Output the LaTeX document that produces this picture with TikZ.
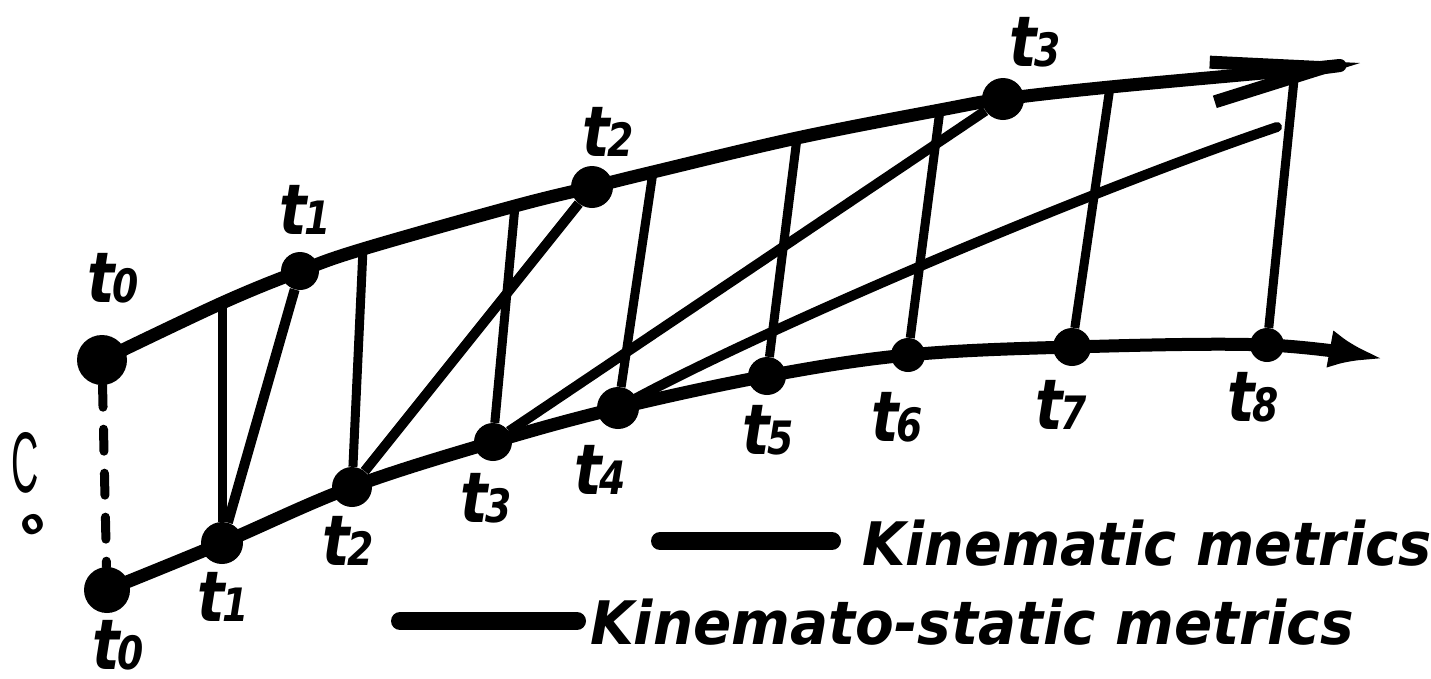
\documentclass[tikz,border=0pt]{standalone}
\usepackage{fontspec}
\usepackage{graphicx}
\setmainfont{DejaVu Sans}
\newfontfamily\cfont{Liberation Sans}
\usetikzlibrary{arrows.meta}
\newcommand{\tlab}[1]{\scalebox{0.82}[1]{{\fontsize{70}{70}\selectfont t}\kern-3pt{\fontsize{46}{46}\selectfont #1}}}
\begin{document}
\begin{tikzpicture}[x=1pt,y=-1pt,
  dot/.style={circle,fill=black,inner sep=0pt,minimum size=#1},
  dot/.default=36pt,
  curveline/.style={line width=13pt,line join=round},
  rung/.style={line width=9pt},
  diag/.style={line width=10pt},
  dashline/.style={line width=9pt,line cap=round,dash pattern=on 22pt off 22pt},
  tlabel/.style={inner sep=0pt,font=\bfseries\itshape},
  legendbar/.style={line width=18pt,line cap=round},
  legendtext/.style={inner sep=0pt,font=\bfseries\itshape\fontsize{60}{60}\selectfont,anchor=base west}]
\useasboundingbox (0,0) rectangle (1431,678);
% top points
\node[dot=50pt] (T0) at (102,360) {};
\node[dot=38pt] (T1) at (300,271) {};
\node[dot=42pt] (T2) at (592,187) {};
\node[dot=42pt] (T3) at (1003,99) {};
\coordinate (E1) at (1360,63);
\coordinate (u1) at (222,303);
\coordinate (u2) at (363,249);
\coordinate (u3) at (515,206);
\coordinate (u4) at (653,172);
\coordinate (u5) at (797,138);
\coordinate (u6) at (940,110);
\coordinate (u7) at (1110,87);
\coordinate (u8) at (1295,70);
% bottom points
\node[dot=46pt] (B0) at (107,590) {};
\node[dot=42pt] (B1) at (222,543) {};
\node[dot=40pt] (B2) at (352,487) {};
\node[dot=38pt] (B3) at (493,442) {};
\node[dot=42pt] (B4) at (618,408) {};
\node[dot=38pt] (B5) at (767,376) {};
\node[dot=34pt] (B6) at (908,355) {};
\node[dot=38pt] (B7) at (1072,347) {};
\node[dot=34pt] (B8) at (1267,345) {};
\coordinate (E2) at (1384,359);
\coordinate (F) at (1277,127);
% curves
\draw[curveline,-{Straight Barb[length=112pt,width=40pt]}] plot[smooth,tension=0.6] coordinates {(T0.center) (u1) (T1.center) (u2) (u3) (T2.center) (u4) (u5) (u6) (T3.center) (u7) (u8) (E1)};
\draw[curveline,-{Latex[length=55pt,width=38pt]}] plot[smooth,tension=0.6] coordinates {(B0.center) (B1.center) (B2.center) (B3.center) (B4.center) (B5.center) (B6.center) (B7.center) (B8.center) (E2)};
% dashed link
\draw[dashline] (T0) -- (B0);
% rungs
\draw[rung] (u1) -- (B1);
\draw[rung] (u2) -- (B2);
\draw[rung] (u3) -- (B3);
\draw[rung] (u4) -- (B4);
\draw[rung] (u5) -- (B5);
\draw[rung] (u6) -- (B6);
\draw[rung] (u7) -- (B7);
\draw[rung] (u8) -- (B8);
% diagonals
\draw[diag] (B1) -- (T1);
\draw[diag] (B2) -- (T2);
\draw[diag] (B3) -- (T3);
\draw[diag,line cap=round] (B4) .. controls (767,328) and (1077,195) .. (F);
% labels
\node[tlabel] (lt0) at (113,278) {\tlab{0}};
\node[tlabel] (lt1) at (305,210) {\tlab{1}};
\node[tlabel] (lt2) at (608,132) {\tlab{2}};
\node[tlabel] (lt3) at (1035,42) {\tlab{3}};
\node[tlabel] (lb0) at (118,645) {\tlab{0}};
\node[tlabel] (lb1) at (223,597) {\tlab{1}};
\node[tlabel] (lb2) at (348,541) {\tlab{2}};
\node[tlabel] (lb3) at (486,498) {\tlab{3}};
\node[tlabel] (lb4) at (600,470) {\tlab{4}};
\node[tlabel] (lb5) at (768,430) {\tlab{5}};
\node[tlabel] (lb6) at (897,417) {\tlab{6}};
\node[tlabel] (lb7) at (1061,405) {\tlab{7}};
\node[tlabel] (lb8) at (1253,397) {\tlab{8}};
% C_o
\node[inner sep=0pt] (C) at (25,463) {\cfont\fontsize{86}{86}\selectfont\scalebox{0.44}[1]{C}};
\node[inner sep=0pt,rotate=30] (Co) at (33,525) {\bfseries\fontsize{34}{34}\selectfont o};
% legend
\coordinate (a1) at (660,541);
\coordinate (a2) at (832,541);
\coordinate (b1) at (400,621);
\coordinate (b2) at (577,621);
\draw[legendbar] (a1) -- (a2);
\draw[legendbar] (b1) -- (b2);
\node[legendtext] (k1) at (862,565) {\scalebox{0.93}[1]{Kinematic metrics}};
\node[legendtext] (k2) at (590,644) {\scalebox{0.94}[1]{Kinemato-static metrics}};
\end{tikzpicture}
\end{document}
